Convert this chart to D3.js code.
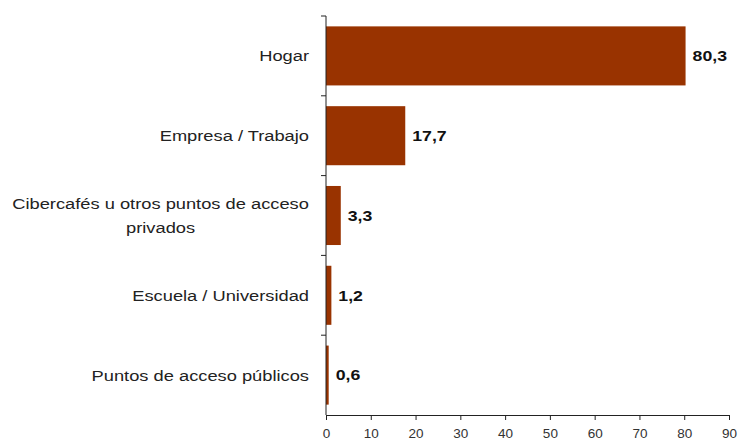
<!DOCTYPE html>
<html>
<head>
<meta charset="utf-8">
<script src="https://cdn.jsdelivr.net/npm/d3@7"></script>
<style>
  html, body { margin: 0; padding: 0; background: #fff; }
  svg { display: block; font-family: "Liberation Sans", Arial, sans-serif; }
</style>
</head>
<body>
<svg id="chart" width="739" height="443"></svg>
<script>
// Lugar de acceso a Internet (%)
const categories = [
  "Hogar",
  "Empresa / Trabajo",
  "Cibercafés u otros puntos de acceso privados",
  "Escuela / Universidad",
  "Puntos de acceso públicos"
];
const values = [80.3, 17.7, 3.3, 1.2, 0.6];
const valueLabels = ["80,3", "17,7", "3,3", "1,2", "0,6"];
const xTicks = [0, 10, 20, 30, 40, 50, 60, 70, 80, 90];

const svg = d3.select("#chart");
const top0 = 16, base = 415, left0 = 326;
const stretch = 1.18; // wide lettering

const x = d3.scaleLinear().domain([0, 90]).range([left0, 729]);
const y = d3.scaleBand().domain(categories).range([top0, base]).paddingInner(0.26).paddingOuter(0.13);

// bars
svg.append("g").selectAll("rect")
  .data(categories)
  .join("rect")
  .attr("x", x(0))
  .attr("y", d => y(d))
  .attr("width", (d, i) => x(values[i]) - x(0))
  .attr("height", y.bandwidth())
  .attr("fill", "#993300");

// value labels
svg.append("g").selectAll("text")
  .data(categories)
  .join("text")
  .attr("transform", (d, i) => `translate(${x(values[i]) + 7},${y(d) + y.bandwidth() / 2}) scale(${stretch},1)`)
  .attr("dy", "0.35em")
  .attr("font-size", 15)
  .attr("font-weight", "bold")
  .attr("fill", "#111")
  .text((d, i) => valueLabels[i]);

// x axis
const xAxis = svg.append("g")
  .attr("transform", `translate(0,${base})`)
  .call(d3.axisBottom(x).tickValues(xTicks).tickSize(5).tickPadding(8).tickFormat(d3.format("d")));
xAxis.select(".domain").attr("stroke", "#222");
xAxis.selectAll(".tick line").attr("stroke", "#222");
xAxis.selectAll(".tick text").attr("font-size", 13.5).attr("fill", "#333")
  .attr("font-family", "'Liberation Sans', Arial, sans-serif");

// y axis: line with ticks at band boundaries
const yAxisG = svg.append("g");
yAxisG.append("line")
  .attr("x1", x(0)).attr("x2", x(0))
  .attr("y1", top0).attr("y2", base)
  .attr("stroke", "#222");
const boundaries = d3.range(categories.length).map(i => top0 + i * (base - top0) / categories.length);
yAxisG.selectAll("line.tick")
  .data(boundaries)
  .join("line")
  .attr("class", "tick")
  .attr("x1", x(0) - 5).attr("x2", x(0))
  .attr("y1", d => d).attr("y2", d => d)
  .attr("stroke", "#222");

// category labels, wrapped to fit the left margin
const labelG = svg.append("g");
const maxW = 302;
const right = 309;
const lh = 24;
categories.forEach(cat => {
  const cy = y(cat) + y.bandwidth() / 2;
  const measure = labelG.append("text").attr("font-size", 15.5);
  const widthOf = s => { measure.text(s); return measure.node().getComputedTextLength() * stretch; };
  const words = cat.split(" ");
  const lines = [];
  let line = [];
  words.forEach(w => {
    line.push(w);
    if (widthOf(line.join(" ")) > maxW && line.length > 1) {
      line.pop();
      lines.push(line.join(" "));
      line = [w];
    }
  });
  lines.push(line.join(" "));
  const widest = d3.max(lines, widthOf);
  measure.remove();
  const multi = lines.length > 1;
  lines.forEach((l, k) => {
    const px = multi ? right - widest / 2 : right;
    const py = cy + (k - (lines.length - 1) / 2) * lh;
    labelG.append("text")
      .attr("transform", `translate(${px},${py}) scale(${stretch},1)`)
      .attr("text-anchor", multi ? "middle" : "end")
      .attr("dy", "0.35em")
      .attr("font-size", 15.5)
      .attr("fill", "#222")
      .text(l);
  });
});
</script>
</body>
</html>
